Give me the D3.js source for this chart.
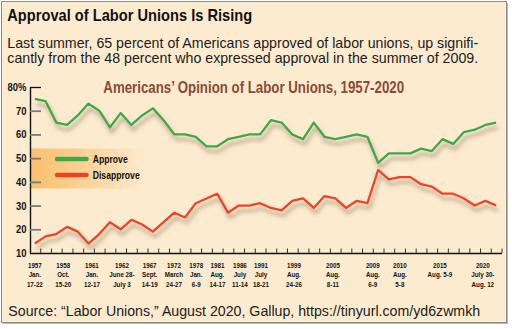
<!DOCTYPE html>
<html><head><meta charset="utf-8">
<script src="https://cdn.jsdelivr.net/npm/d3@7"></script>
<style>html,body{margin:0;padding:0;background:#fff;} svg{display:block}</style>
</head><body><svg id="c" width="512" height="329"></svg>
<script>
// ---------------- DATA ----------------
const approve    = [75,74,65,64,68,73,70,63,69,64,68,71,66,60,60,59,55,55,58,59,60,60,66,65,60,58,65,59,58,59,60,59,48,52,52,52,54,53,58,56,61,62,64,65];
const disapprove = [14,17,18,21,19,14,18,23,20,24,22,19,23,27,25,31,33,35,27,30,30,31,29,28,32,33,29,34,33,29,32,31,45,41,42,42,39,38,35,35,33,30,32,30];
const yTicks     = [10,20,30,40,50,60,70,80];
const labelIndex = [0,3,5,8,11,13,15,17,19,21,24,28,32,33,38,43];
const labelYear  = ["1957","1958","1961","1962","1967","1972","1978","1981","1986","1991","1999","2005","2009","2010","2015","2020"];
const labelLine2 = ["Jan.","Oct.","Jan.","June 28-","Sept.","March","Jan.","Aug.","July","July","Aug.","Aug.","Aug.","Aug.","Aug. 5-9","July 30-"];
const labelLine3 = ["17-22","15-20","12-17","July 3","14-19","24-27","6-9","14-17","11-14","18-21","24-26","8-11","6-9","5-8","","Aug. 12"];
const seriesNames = ["Approve","Disapprove"];

// ---------------- LAYOUT ----------------
const labelNudge = [0,-3.8,3.4,1.3,-3.2,-0.4,0.4,0.2,1.2,0.8,1.6,-2.3,-5.3,11,-2.6,-13.3];
const SANS = "'Liberation Sans',Arial,Helvetica,sans-serif";
const SQ = 0.8; // horizontal squeeze emulating a condensed face
const BG = "#fdebd0", GREEN = "#3fa947", RED = "#ec4526", BROWN = "#8b4a31";

const svg = d3.select('#c');
const defs = svg.append('defs');
const f = defs.append('filter').attr('id','sh').attr('x','-10%').attr('y','-20%').attr('width','130%').attr('height','160%');
f.append('feDropShadow').attr('dx',2).attr('dy',5).attr('stdDeviation',2)
 .attr('flood-color','#5a4626').attr('flood-opacity',0.5);
const g = defs.append('linearGradient').attr('id','lg');
g.append('stop').attr('offset','0%').attr('stop-color','#fabf6e');
g.append('stop').attr('offset','30%').attr('stop-color','#fbca86');
g.append('stop').attr('offset','100%').attr('stop-color',BG);

// panel
svg.append('rect').attr('x',3).attr('y',3).attr('width',505).attr('height',321).attr('fill','#b5b5b5');
svg.append('rect').attr('x',1.5).attr('y',1.5).attr('width',505).attr('height',321)
  .attr('fill',BG).attr('stroke','#8c8c8c').attr('stroke-width',1);

// condensed bold text helper
function ctext(parent, px, py, str, size, sx, anchor, fill){
  return parent.append('text').attr('transform',`translate(${px},${py}) scale(${sx},1)`)
    .attr('font-family',SANS).attr('font-weight','bold').attr('font-size',size)
    .attr('text-anchor',anchor||'start').attr('fill',fill||'#111').text(str);
}
function fitSq(sel, px, py, target){
  const w = sel.node().getComputedTextLength();
  const sx = target/w;
  sel.attr('transform',`translate(${px},${py}) scale(${sx},1)`);
}
function fitSize(sel, target){
  const w = sel.node().getComputedTextLength();
  const nf = parseFloat(sel.attr('font-size'))*target/w;
  sel.attr('font-size', nf);
  return nf;
}

// titles
const t1 = ctext(svg, 7.3, 21, 'Approval of Labor Unions Is Rising', 16.5, 1);
fitSq(t1, 7.3, 21, 245);
const s1 = svg.append('text').attr('x',7.3).attr('y',47.5).attr('font-family',SANS).attr('font-size',13).attr('fill','#1b1b1b')
  .text('Last summer, 65 percent of Americans approved of labor unions, up signifi-');
const sfs = fitSize(s1,471.5);
svg.append('text').attr('x',7.3).attr('y',63.3).attr('font-family',SANS).attr('font-size',sfs).attr('fill','#1b1b1b')
  .text('cantly from the 48 percent who expressed approval in the summer of 2009.');
const ct = ctext(svg, 103.3, 92.5, 'Americans\u2019 Opinion of Labor Unions, 1957-2020', 16, 1, 'start', BROWN);
fitSq(ct, 103.3, 92.5, 301);
const src = svg.append('text').attr('x',8.3).attr('y',316).attr('font-family',SANS).attr('font-size',12.5).attr('fill','#1b1b1b')
  .text('Source: \u201CLabor Unions,\u201D August 2020, Gallup, https://tinyurl.com/yd6zwmkh');
fitSize(src,472.4);

// scales
const x = d3.scaleLinear().domain([-0.5, approve.length-0.5]).range([29.5, 501.5]);
const y = d3.scaleLinear().domain([10,80]).range([253,87]);

// legend band
svg.append('rect').attr('x',30).attr('y',148.5).attr('width',118).attr('height',40).attr('fill','url(#lg)');

// y axis
const ya = svg.append('g').attr('transform','translate(30,0)')
  .call(d3.axisLeft(y).tickValues(yTicks).tickSize(-11).tickSizeOuter(0).tickPadding(3.5)
        .tickFormat(d => d===80 ? '80%' : d));
ya.select('.domain').attr('stroke','#111').attr('stroke-width',1.4);
ya.selectAll('.tick line').attr('stroke', d => d===80 ? '#111' : '#7a7a7a').attr('stroke-width', d => d===80?1.3:1.8)
  .attr('opacity', d => d===10 ? 0 : 1);
const YSQ = 0.86;
ya.selectAll('.tick text').attr('font-family',SANS).attr('font-weight','bold').attr('font-size',11).attr('fill','#111')
  .attr('x', -3.5/YSQ).attr('transform',`scale(${YSQ},1)`);

// x axis
const xa = svg.append('g').attr('transform','translate(0,253)')
  .call(d3.axisBottom(x).tickValues(d3.range(approve.length).map(i=>i+0.5)).tickSize(-4.5).tickSizeOuter(0).tickFormat(''));
xa.select('.domain').attr('stroke','#111').attr('stroke-width',1.4);
xa.selectAll('.tick line').attr('stroke','#333').attr('stroke-width',1);

// x labels
const lab = svg.append('g');
labelIndex.forEach((idx,k) => {
  const cx = x(idx) + labelNudge[k];
  [labelYear[k], labelLine2[k], labelLine3[k]].forEach((t,j) => {
    if (t) ctext(lab, cx, 267.7 + j*9.7, t, 7.8, SQ, 'middle');
  });
});

// lines
const line = d3.line().x((d,i)=>x(i)).y(d=>y(d));
const lg = svg.append('g').attr('filter','url(#sh)');
lg.append('path').datum(approve).attr('d',line).attr('fill','none').attr('stroke',GREEN)
  .attr('stroke-width',2.3).attr('stroke-linejoin','round');
lg.append('path').datum(disapprove).attr('d',line).attr('fill','none').attr('stroke',RED)
  .attr('stroke-width',2.3).attr('stroke-linejoin','round');

// legend
const leg = svg.append('g');
[[GREEN,159,163],[RED,175,179]].forEach((c,k) => {
  leg.append('line').attr('x1',57).attr('x2',86.5).attr('y1',c[1]).attr('y2',c[1])
    .attr('stroke',c[0]).attr('stroke-width',4.5).attr('stroke-linecap','round');
  ctext(leg, 92.7, c[2], seriesNames[k], 10.8, SQ);
});
</script></body></html>
